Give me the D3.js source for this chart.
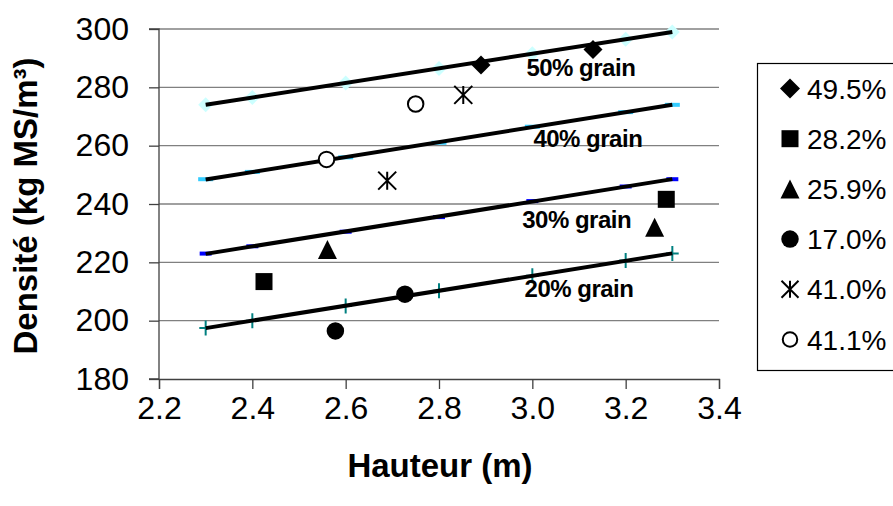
<!DOCTYPE html>
<html>
<head>
<meta charset="utf-8">
<script src="https://cdn.jsdelivr.net/npm/d3@7"></script>
<style>
  body { margin: 0; background: #fff; }
  svg { display: block; }
  text { font-family: "Liberation Sans", Arial, sans-serif; fill: #000; }
</style>
</head>
<body>
<svg id="chart" width="893" height="506"></svg>
<script>
// Reference curves: density for given grain content at each height
const heights = [2.3, 2.4, 2.6, 2.8, 3.0, 3.2, 3.3];
const grain50 = [274, 276.5, 281.5, 286.5, 291.5, 296.5, 299];
const grain40 = [248.5, 251, 256, 261, 266.5, 271.5, 274];
const grain30 = [223, 225.5, 230.5, 235.5, 241, 246, 248.5];
const grain20 = [197.5, 200, 205, 210.3, 215.4, 220.6, 223];
const grainLabels = ["50% grain", "40% grain", "30% grain", "20% grain"];
// where each curve's label sits (height, density at text baseline)
const grainLabelX = [3.104, 3.119, 3.095, 3.10];
const grainLabelY = [283.9, 259.4, 231.9, 208.0];

// Measured samples (grain content %)
const sampleLabels = ["49.5%", "28.2%", "25.9%", "17.0%", "41.0%", "41.1%"];
const sampleHeight = [[2.89, 3.13], [2.425, 3.287], [2.561, 3.262], [2.578, 2.727], [2.689, 2.852], [2.559, 2.75]];
const sampleDensity = [[287.7, 293.0], [213.4, 241.6], [224.4, 232.0], [196.5, 209.1], [248.0, 277.4], [255.3, 274.3]];

const xTicks = [2.2, 2.4, 2.6, 2.8, 3.0, 3.2, 3.4];
const yTicks = [180, 200, 220, 240, 260, 280, 300];

const svg = d3.select("#chart");
const x = d3.scaleLinear().domain([2.2, 3.4]).range([159, 719]);
const y = d3.scaleLinear().domain([180, 300]).range([379, 29]);

// Gridlines
svg.append("g")
  .selectAll("line")
  .data(yTicks.slice(1))
  .join("line")
  .attr("x1", x(2.2)).attr("x2", x(3.4))
  .attr("y1", d => y(d)).attr("y2", d => y(d))
  .attr("stroke", "#808080").attr("stroke-width", 1.3);

// Axes
const yAxis = svg.append("g")
  .attr("transform", `translate(${x(2.2)},0)`)
  .call(d3.axisLeft(y).tickValues(yTicks).tickSize(10).tickPadding(20).tickFormat(d3.format("d")));
const xAxis = svg.append("g")
  .attr("transform", `translate(0,${y(180)})`)
  .call(d3.axisBottom(x).tickValues(xTicks).tickSize(10).tickPadding(7).tickFormat(d3.format(".1f")));
[yAxis, xAxis].forEach(a => {
  a.select(".domain").attr("stroke", "#404040").attr("stroke-width", 1.3);
  a.selectAll(".tick line").attr("stroke", "#404040").attr("stroke-width", 1.3);
  a.selectAll("text").style("font-size", "32px").style("font-family", '"Liberation Sans", Arial, sans-serif').attr("fill", "#000");
});
yAxis.select(".domain").attr("d", `M-10,${y(180)}H0V${y(300)}H-10`);

// Marker shapes
function shapePath(type, s) {
  const h = s / 2;
  switch (type) {
    case "diamond": return `M0,${-h}L${h},0L0,${h}L${-h},0Z`;
    case "square": return `M${-h},${-h}H${h}V${h}H${-h}Z`;
    case "triangle": return `M0,${-h}L${h},${h}L${-h},${h}Z`;
    case "circle": return d3.arc()({innerRadius: 0, outerRadius: h, startAngle: 0, endAngle: 2 * Math.PI});
    case "star": return `M${-h},${-h}L${h},${h}M${-h},${h}L${h},${-h}M0,${-h}V${h}`;
    case "dash": return `M${-h},-2H${h}V2H${-h}Z`;
    case "plus": return `M${-h * 0.85},0H${h * 0.85}M0,${-h}V${h}`;
  }
}

// Reference curve markers
const refStyles = [
  {values: grain50, type: "diamond", size: 15, fill: "#ccffff", stroke: "none"},
  {values: grain40, type: "dash", size: 15, fill: "#33ccff", stroke: "none"},
  {values: grain30, type: "dash", size: 12, fill: "#0000ff", stroke: "none"},
  {values: grain20, type: "plus", size: 15, fill: "none", stroke: "#008080"}
];
refStyles.forEach(st => {
  svg.append("g").selectAll("path")
    .data(heights.map((h, i) => [h, st.values[i]]))
    .join("path")
    .attr("transform", d => `translate(${x(d[0])},${y(d[1])})`)
    .attr("d", shapePath(st.type, st.size))
    .attr("fill", st.fill).attr("stroke", st.stroke).attr("stroke-width", 2);
});

// Least-squares trend line for each curve
function fit(xs, ys) {
  const mx = d3.mean(xs), my = d3.mean(ys);
  const b = d3.sum(xs, (v, i) => (v - mx) * (ys[i] - my)) / d3.sum(xs, v => (v - mx) ** 2);
  return t => my + b * (t - mx);
}
const line = d3.line().x(d => x(d[0])).y(d => y(d[1]));
refStyles.forEach(st => {
  const f = fit(heights, st.values);
  const ends = [heights[0], heights[heights.length - 1]];
  svg.append("path")
    .attr("d", line(ends.map(t => [t, f(t)])))
    .attr("stroke", "#000").attr("stroke-width", 4).attr("fill", "none");
});

// Curve labels
svg.append("g").selectAll("text")
  .data(grainLabels)
  .join("text")
  .attr("x", (d, i) => x(grainLabelX[i]))
  .attr("y", (d, i) => y(grainLabelY[i]))
  .attr("text-anchor", "middle")
  .style("font-size", "24px").style("font-weight", "bold")
  .style("letter-spacing", "-0.5px")
  .text(d => d);

// Sample markers
const sampleStyles = [
  {type: "diamond", size: 19, legendSize: 20, fill: "#000", stroke: "none"},
  {type: "square", size: 17, legendSize: 17, fill: "#000", stroke: "none"},
  {type: "triangle", size: 19, legendSize: 19, fill: "#000", stroke: "none"},
  {type: "circle", size: 17.5, legendSize: 17.5, fill: "#000", stroke: "none"},
  {type: "star", size: 18, legendSize: 17, fill: "none", stroke: "#000"},
  {type: "circle", size: 15.5, legendSize: 14.5, fill: "#fff", stroke: "#000"}
];
sampleLabels.forEach((lab, k) => {
  const st = sampleStyles[k];
  svg.append("g").selectAll("path")
    .data(sampleHeight[k].map((h, i) => [h, sampleDensity[k][i]]))
    .join("path")
    .attr("transform", d => `translate(${x(d[0])},${y(d[1])})`)
    .attr("d", shapePath(st.type, st.size))
    .attr("fill", st.fill).attr("stroke", st.stroke).attr("stroke-width", 2);
});

// Axis titles
svg.append("text")
  .attr("x", 440).attr("y", 477)
  .attr("text-anchor", "middle")
  .style("font-size", "33px").style("font-weight", "bold")
  .text("Hauteur (m)");
svg.append("text")
  .attr("transform", "translate(37,206) rotate(-90)")
  .attr("text-anchor", "middle")
  .style("font-size", "33px").style("font-weight", "bold")
  .text("Densité (kg MS/m³)");

// Legend
const legend = svg.append("g");
legend.append("rect")
  .attr("x", 757.5).attr("y", 63.5).attr("width", 150).attr("height", 307)
  .attr("fill", "#fff").attr("stroke", "#000").attr("stroke-width", 1.2);
const rowY = d3.scalePoint().domain(sampleLabels).range([88.5, 339.5]);
sampleLabels.forEach((lab, k) => {
  const st = sampleStyles[k];
  legend.append("path")
    .attr("transform", `translate(790,${rowY(lab)})`)
    .attr("d", shapePath(st.type, st.legendSize))
    .attr("fill", st.fill).attr("stroke", st.stroke).attr("stroke-width", 2);
  legend.append("text")
    .attr("x", 807).attr("y", rowY(lab) + 10)
    .style("font-size", "28px")
    .text(lab);
});
</script>
</body>
</html>
